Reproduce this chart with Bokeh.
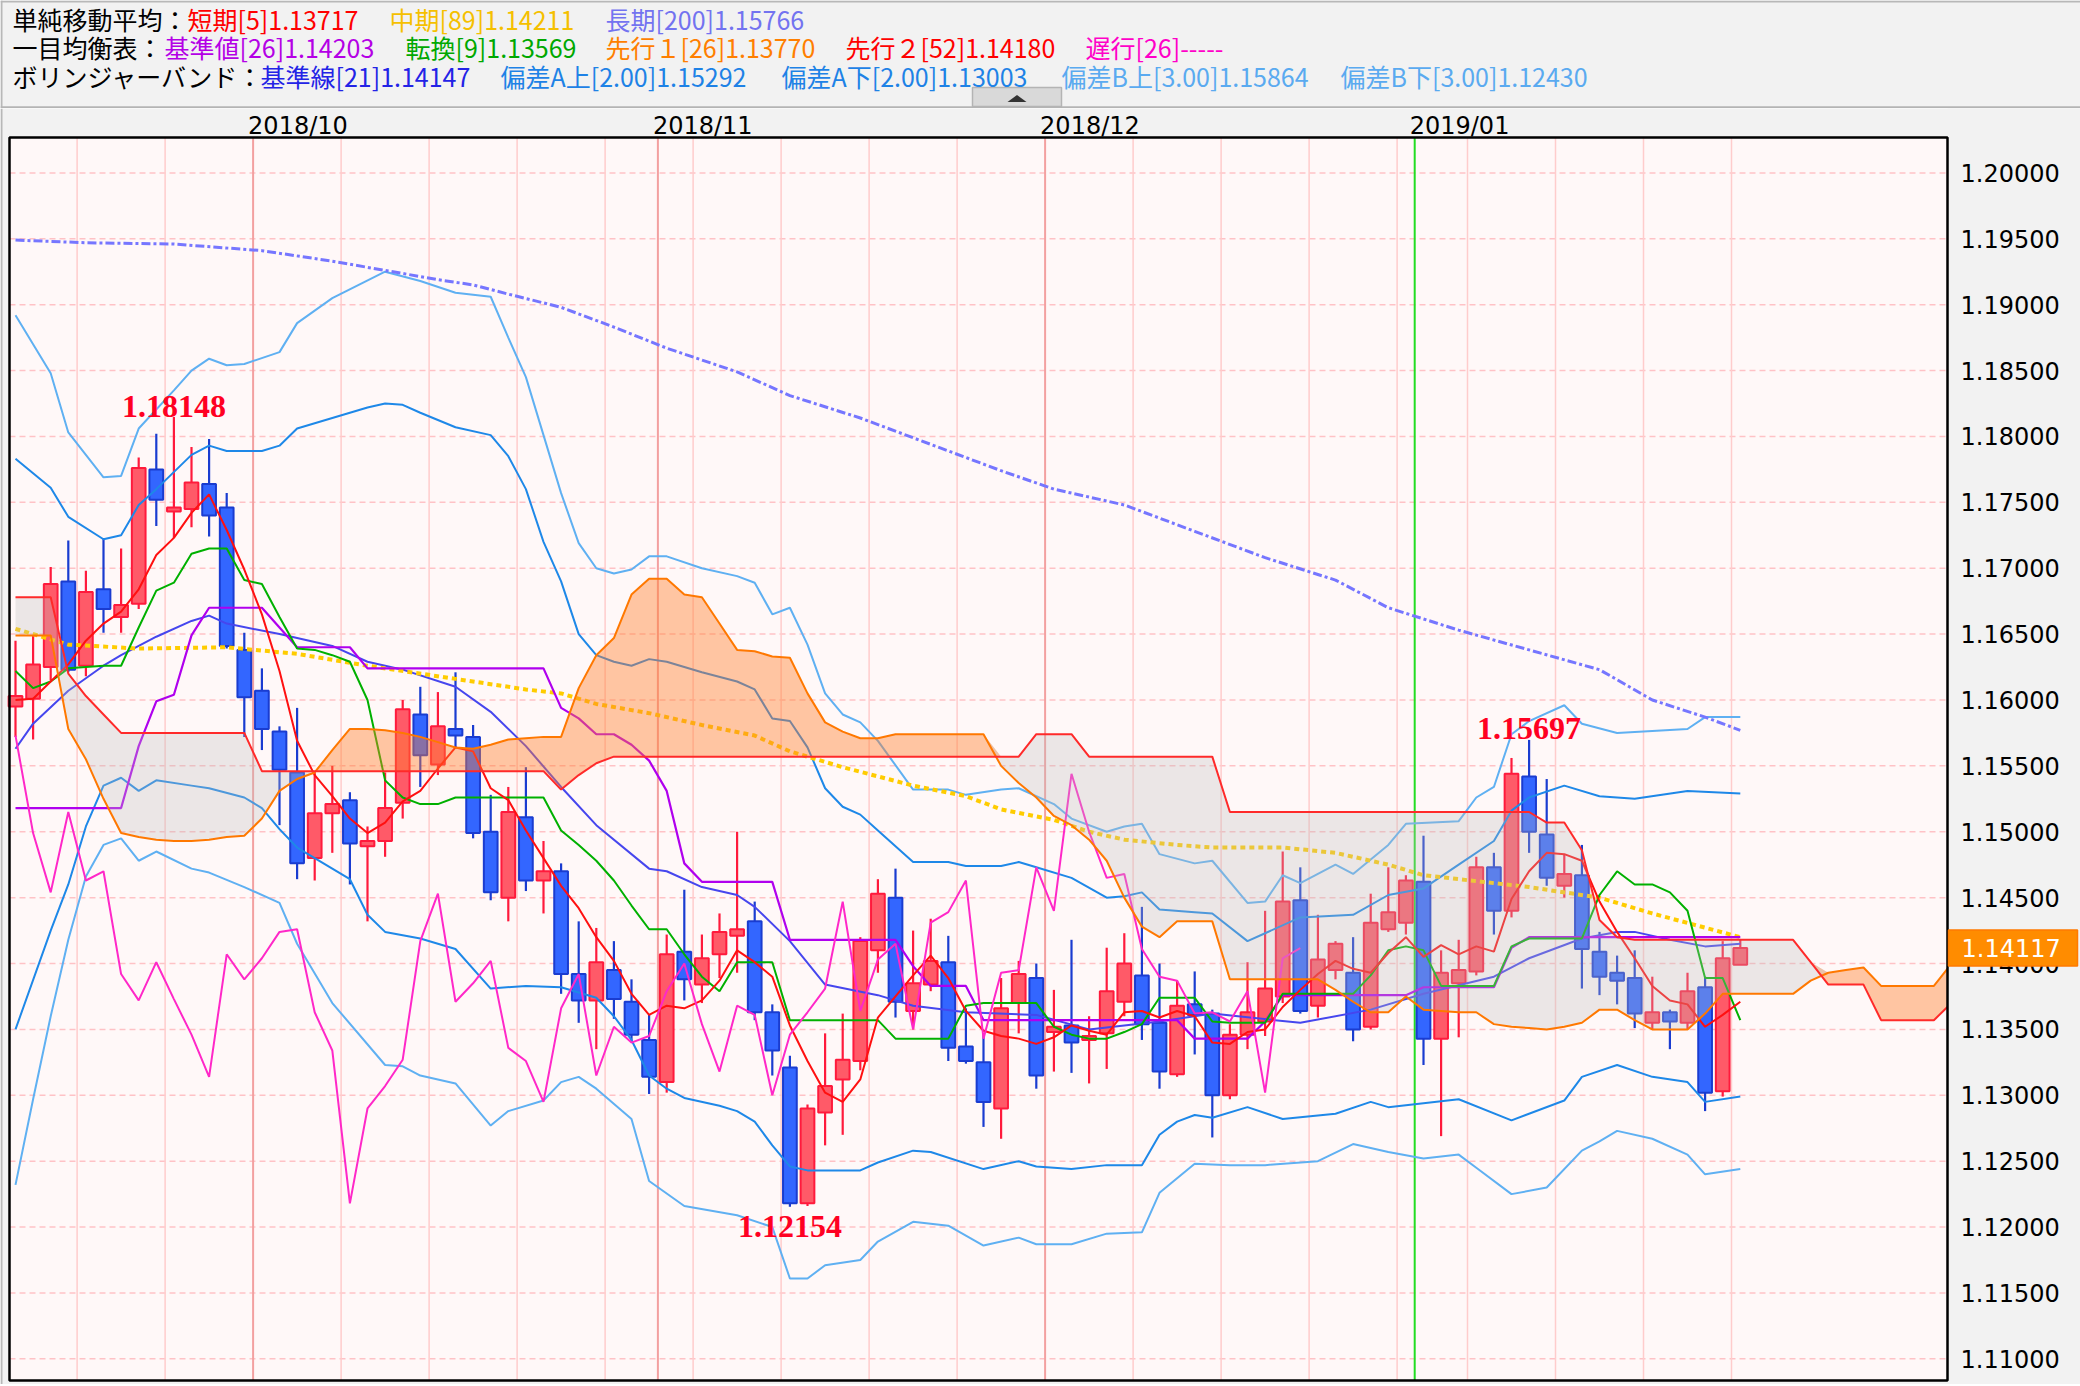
import numpy as np
from bokeh.plotting import figure
from bokeh.layouts import column
from bokeh.models import Range1d, Grid, ColumnDataSource
from bokeh.core.properties import value
from bokeh.embed import file_html
from bokeh.resources import INLINE

# ======================= DATA =======================
# EUR/USD daily candles, 2018-09-11 .. 2019-01-28 (index 0..98)
opens = [1.1595, 1.1601, 1.1625, 1.1690, 1.1626, 1.1684, 1.1663, 1.1673, 1.1775, 1.1743,
         1.1745, 1.1764, 1.1746, 1.1638, 1.1607, 1.1576, 1.1545, 1.1480, 1.1514, 1.1524,
         1.1489, 1.1493, 1.1522, 1.1589, 1.1551, 1.1578, 1.1572, 1.1500, 1.1450, 1.1511,
         1.1463, 1.1470, 1.1392, 1.1372, 1.1395, 1.1371, 1.1342, 1.1310, 1.1409, 1.1384,
         1.1407, 1.1421, 1.1432, 1.1363, 1.1321, 1.1218, 1.1287, 1.1312, 1.1326, 1.1410,
         1.1450, 1.1364, 1.1384, 1.1401, 1.1337, 1.1325, 1.1290, 1.1370, 1.1389, 1.1348,
         1.1353, 1.1342, 1.1347, 1.1371, 1.1391, 1.1355, 1.1316, 1.1369, 1.1362, 1.1300,
         1.1346, 1.1356, 1.1375, 1.1448, 1.1368, 1.1395, 1.1393, 1.1352, 1.1426, 1.1431,
         1.1462, 1.1343, 1.1385, 1.1394, 1.1473, 1.1440, 1.1542, 1.1498, 1.1459, 1.1467,
         1.1409, 1.1393, 1.1389, 1.1355, 1.1363, 1.1355, 1.1382, 1.1303, 1.1399]
highs = [1.1645, 1.1649, 1.1701, 1.1721, 1.1698, 1.1723, 1.1715, 1.1784, 1.1802, 1.18148,
         1.1792, 1.1798, 1.1757, 1.1651, 1.1624, 1.1580, 1.1594, 1.1545, 1.1550, 1.1530,
         1.1504, 1.1545, 1.1600, 1.1610, 1.1606, 1.1621, 1.1581, 1.1528, 1.1534, 1.1549,
         1.1493, 1.1476, 1.1432, 1.1427, 1.1417, 1.1388, 1.1361, 1.1422, 1.1456, 1.1422,
         1.1438, 1.1500, 1.1447, 1.1369, 1.1330, 1.1293, 1.1347, 1.1362, 1.1420, 1.1464,
         1.1472, 1.1425, 1.1434, 1.1421, 1.1366, 1.1346, 1.1389, 1.1402, 1.1400, 1.1380,
         1.1418, 1.1360, 1.1412, 1.1423, 1.1443, 1.1400, 1.1387, 1.1394, 1.1365, 1.1354,
         1.1401, 1.1440, 1.1485, 1.1473, 1.1437, 1.1417, 1.1420, 1.1453, 1.1473, 1.1467,
         1.1497, 1.1410, 1.1418, 1.1481, 1.1484, 1.1556, 1.15697, 1.1540, 1.1483, 1.1490,
         1.1424, 1.1406, 1.1410, 1.1390, 1.1365, 1.1393, 1.1390, 1.1417, 1.1418]
lows = [1.1572, 1.1570, 1.1615, 1.1621, 1.1618, 1.1651, 1.1651, 1.1669, 1.1732, 1.1723,
        1.1731, 1.1724, 1.1639, 1.1572, 1.1562, 1.1505, 1.1464, 1.1463, 1.1484, 1.1460,
        1.1432, 1.1481, 1.1510, 1.1534, 1.1543, 1.1564, 1.1495, 1.1448, 1.1432, 1.1455,
        1.1438, 1.1377, 1.1355, 1.1335, 1.1358, 1.1341, 1.1301, 1.1302, 1.1372, 1.1370,
        1.1389, 1.1393, 1.1357, 1.1315, 1.12154, 1.1216, 1.1262, 1.1270, 1.1319, 1.1393,
        1.1359, 1.1350, 1.1379, 1.1326, 1.1324, 1.1276, 1.1267, 1.1347, 1.1305, 1.1318,
        1.1317, 1.1309, 1.1320, 1.1360, 1.1342, 1.1305, 1.1314, 1.1331, 1.1268, 1.1297,
        1.1335, 1.1345, 1.1370, 1.1362, 1.1359, 1.1388, 1.1341, 1.1350, 1.1424, 1.1422,
        1.1323, 1.1269, 1.1344, 1.1391, 1.1422, 1.1435, 1.1484, 1.1459, 1.1450, 1.1381,
        1.1376, 1.1369, 1.1351, 1.1350, 1.1335, 1.1350, 1.1288, 1.1299, 1.1399]
closes = [1.1603, 1.1627, 1.1688, 1.1623, 1.1682, 1.1669, 1.1672, 1.1776, 1.1752, 1.1746,
          1.1765, 1.1740, 1.1641, 1.1602, 1.1578, 1.1547, 1.1476, 1.1514, 1.1521, 1.1491,
          1.1493, 1.1518, 1.1593, 1.1558, 1.1580, 1.1573, 1.1499, 1.1454, 1.1515, 1.1463,
          1.1470, 1.1392, 1.1372, 1.1401, 1.1373, 1.1346, 1.1314, 1.1407, 1.1388, 1.1404,
          1.1424, 1.1426, 1.1363, 1.1334, 1.1218, 1.1290, 1.1307, 1.1327, 1.1417, 1.1453,
          1.1371, 1.1385, 1.1402, 1.1336, 1.1326, 1.1295, 1.1366, 1.1392, 1.1315, 1.1352,
          1.1340, 1.1345, 1.1379, 1.1400, 1.1354, 1.1318, 1.1368, 1.1361, 1.1300, 1.1346,
          1.1363, 1.1381, 1.1447, 1.1364, 1.1403, 1.1415, 1.1350, 1.1431, 1.1439, 1.1463,
          1.1343, 1.1393, 1.1395, 1.1473, 1.1440, 1.1544, 1.1500, 1.1465, 1.1468, 1.1411,
          1.1390, 1.1387, 1.1362, 1.1363, 1.1356, 1.1379, 1.1302, 1.1404, 1.14117]

# SMA 5 (per candle)
sma5 = [1.1600, 1.1601, 1.1614, 1.1627, 1.1645, 1.1658, 1.1667, 1.1684, 1.1710, 1.1723,
        1.1742, 1.1756, 1.1729, 1.1699, 1.1665, 1.1622, 1.1569, 1.1543, 1.1527, 1.1510,
        1.1499, 1.1507, 1.1523, 1.1531, 1.1548, 1.1564, 1.1561, 1.1533, 1.1524, 1.1501,
        1.1480, 1.1459, 1.1442, 1.1420, 1.1402, 1.1377, 1.1361, 1.1368, 1.1366, 1.1372,
        1.1387, 1.1410, 1.1401, 1.1390, 1.1353, 1.1326, 1.1302, 1.1295, 1.1312, 1.1359,
        1.1375, 1.1391, 1.1406, 1.1389, 1.1364, 1.1349, 1.1345, 1.1343, 1.1339, 1.1344,
        1.1353, 1.1349, 1.1346, 1.1363, 1.1364, 1.1359, 1.1364, 1.1360, 1.1340, 1.1339,
        1.1348, 1.1350, 1.1367, 1.1380, 1.1392, 1.1402, 1.1396, 1.1393, 1.1408, 1.1420,
        1.1405, 1.1414, 1.1407, 1.1413, 1.1409, 1.1449, 1.1470, 1.1484, 1.1483, 1.1478,
        1.1447, 1.1424, 1.1404, 1.1383, 1.1372, 1.1369, 1.1352, 1.1361, 1.1371]

# SMA 89 / SMA 200 (vertices: candle index, value)
sma89_idx = [0, 3, 7, 12, 16, 20, 25, 29, 31, 33, 36, 39, 42, 44, 47, 49, 51, 54, 56, 59,
             61, 63, 66, 68, 72, 75, 78, 80, 82, 86, 90, 93, 98]
sma89_val = [1.1654, 1.1642, 1.1639, 1.1640, 1.1635, 1.1626, 1.1616, 1.1608, 1.1605, 1.1597,
             1.1590, 1.1581, 1.1573, 1.1561, 1.1549, 1.1542, 1.1535, 1.1527, 1.1517, 1.1509,
             1.1500, 1.1494, 1.1490, 1.1488, 1.1488, 1.1484, 1.1475, 1.1467, 1.1464, 1.1458,
             1.1450, 1.1438, 1.1420]
sma200_idx = [0, 4, 9, 14, 18, 21, 24, 26, 28, 31, 34, 37, 41, 44, 48, 52, 56, 59, 63, 67,
              71, 75, 78, 82, 86, 90, 93, 96, 98]
sma200_val = [1.1949, 1.1947, 1.1946, 1.1941, 1.1933, 1.1926, 1.1919, 1.1915, 1.1908, 1.1898,
              1.1883, 1.1867, 1.1849, 1.1831, 1.1814, 1.1794, 1.1774, 1.1760, 1.1748, 1.1728,
              1.1708, 1.1691, 1.1670, 1.1653, 1.1638, 1.1623, 1.1600, 1.1587, 1.1577]

# Bollinger bands (21): middle, +/-2 sigma, +/-3 sigma (vertices)
bb_mid_idx = [0, 1, 3, 5, 6, 8, 10, 11, 12, 15, 18, 20, 22, 25, 27, 29, 31, 33, 36, 37,
              39, 41, 42, 44, 46, 49, 51, 54, 58, 61, 65, 68, 73, 77, 80, 84, 86, 89, 91, 92,
              94, 96, 98]
bb_mid_val = [1.1563, 1.1582, 1.1607, 1.1626, 1.1634, 1.1648, 1.1660, 1.1664, 1.1658, 1.1650,
              1.1641, 1.1629, 1.1623, 1.1610, 1.1591, 1.1565, 1.1534, 1.1505, 1.1472, 1.1470,
              1.1458, 1.1452, 1.1443, 1.1417, 1.1384, 1.1376, 1.1368, 1.1363, 1.1361, 1.1350,
              1.1356, 1.1362, 1.1355, 1.1365, 1.1377, 1.1390, 1.1404, 1.1419, 1.1424, 1.1424,
              1.1418, 1.1413, 1.1415]
bb_up2_idx = [0, 2, 3, 5, 6, 7, 8, 10, 11, 12, 14, 15, 16, 18, 20, 21, 22, 23, 25, 27,
              28, 29, 30, 31, 32, 33, 34, 35, 36, 37, 39, 41, 42, 43, 44, 45, 46, 47, 48, 49,
              51, 53, 54, 56, 57, 58, 60, 62, 63, 64, 65, 67, 68, 70, 71, 73, 76, 78, 80, 82,
              84, 85, 86, 88, 90, 92, 95, 98]
bb_up2_val = [1.1783, 1.1761, 1.1739, 1.1722, 1.1725, 1.1748, 1.1760, 1.1786, 1.1793, 1.1789,
              1.1789, 1.1793, 1.1806, 1.1814, 1.1822, 1.1825, 1.1824, 1.1818, 1.1807, 1.1801,
              1.1785, 1.1760, 1.1720, 1.1690, 1.1650, 1.1634, 1.1629, 1.1626, 1.1631, 1.1629,
              1.1621, 1.1614, 1.1608, 1.1586, 1.1584, 1.1564, 1.1533, 1.1519, 1.1513, 1.1501,
              1.1477, 1.1477, 1.1474, 1.1474, 1.1477, 1.1473, 1.1465, 1.1450, 1.1451, 1.1454,
              1.1441, 1.1439, 1.1438, 1.1417, 1.1423, 1.1435, 1.1437, 1.1452, 1.1457, 1.1475,
              1.1493, 1.1516, 1.1526, 1.1535, 1.1527, 1.1525, 1.1531, 1.1529]
bb_lo2_idx = [0, 2, 3, 4, 5, 6, 7, 8, 10, 11, 13, 14, 15, 16, 17, 19, 20, 21, 23, 25,
              27, 29, 31, 33, 34, 35, 36, 37, 38, 40, 41, 42, 43, 44, 45, 48, 49, 51, 52, 55,
              57, 58, 60, 62, 64, 65, 66, 67, 68, 70, 72, 75, 77, 78, 82, 85, 88, 89, 91, 93,
              95, 96, 98]
bb_lo2_val = [1.1350, 1.1425, 1.1460, 1.1504, 1.1535, 1.1541, 1.1531, 1.1539, 1.1535, 1.1533,
              1.1526, 1.1518, 1.1502, 1.1488, 1.1480, 1.1464, 1.1437, 1.1424, 1.1419, 1.1411,
              1.1381, 1.1383, 1.1382, 1.1374, 1.1360, 1.1342, 1.1315, 1.1305, 1.1298, 1.1292,
              1.1288, 1.1280, 1.1262, 1.1246, 1.1243, 1.1243, 1.1249, 1.1258, 1.1257, 1.1244,
              1.1250, 1.1246, 1.1244, 1.1247, 1.1247, 1.1270, 1.1280, 1.1285, 1.1283, 1.1291,
              1.1282, 1.1286, 1.1295, 1.1291, 1.1297, 1.1281, 1.1296, 1.1314, 1.1323, 1.1314,
              1.1310, 1.1295, 1.1299]
bb_up3_idx = [0, 2, 3, 5, 6, 7, 9, 10, 11, 12, 13, 15, 16, 18, 21, 23, 25, 27, 28, 29,
              30, 31, 32, 33, 34, 35, 36, 37, 39, 41, 42, 43, 44, 45, 46, 47, 48, 49, 51, 53,
              54, 56, 57, 59, 60, 62, 63, 64, 65, 67, 68, 70, 71, 72, 73, 75, 76, 78, 79, 82,
              83, 84, 85, 86, 88, 89, 91, 95, 96, 98]
bb_up3_val = [1.1892, 1.1848, 1.1803, 1.1769, 1.1770, 1.1806, 1.1835, 1.1850, 1.1859, 1.1854,
              1.1855, 1.1864, 1.1886, 1.1905, 1.1925, 1.1918, 1.1909, 1.1906, 1.1875, 1.1845,
              1.1801, 1.1757, 1.1719, 1.1700, 1.1696, 1.1699, 1.1709, 1.1709, 1.1700, 1.1694,
              1.1689, 1.1665, 1.1670, 1.1642, 1.1605, 1.1589, 1.1583, 1.1569, 1.1532, 1.1532,
              1.1528, 1.1532, 1.1533, 1.1521, 1.1510, 1.1500, 1.1504, 1.1506, 1.1483, 1.1476,
              1.1478, 1.1446, 1.1447, 1.1467, 1.1461, 1.1475, 1.1468, 1.1490, 1.1506, 1.1508,
              1.1526, 1.1534, 1.1574, 1.1584, 1.1596, 1.1582, 1.1575, 1.1578, 1.1587, 1.1587]
bb_lo3_idx = [0, 1, 2, 3, 4, 5, 6, 7, 8, 10, 11, 13, 15, 16, 18, 21, 22, 23, 25, 27,
              28, 30, 31, 32, 33, 35, 36, 38, 41, 43, 44, 45, 46, 48, 49, 51, 53, 55, 57, 58,
              60, 62, 64, 65, 67, 69, 71, 74, 76, 78, 80, 82, 83, 85, 87, 89, 90, 91, 93, 95,
              96, 98]
bb_lo3_val = [1.1232, 1.1297, 1.1360, 1.1418, 1.1466, 1.1490, 1.1495, 1.1478, 1.1485, 1.1472,
              1.1469, 1.1458, 1.1446, 1.1415, 1.1370, 1.1323, 1.1322, 1.1315, 1.1309, 1.1277,
              1.1288, 1.1296, 1.1310, 1.1314, 1.1305, 1.1282, 1.1235, 1.1216, 1.1209, 1.1200,
              1.1161, 1.1161, 1.1171, 1.1175, 1.1189, 1.1204, 1.1201, 1.1186, 1.1192, 1.1187,
              1.1187, 1.1195, 1.1196, 1.1226, 1.1248, 1.1247, 1.1247, 1.1250, 1.1263, 1.1257,
              1.1252, 1.1255, 1.1245, 1.1225, 1.1230, 1.1258, 1.1265, 1.1273, 1.1267, 1.1255,
              1.1240, 1.1244]

# Ichimoku: tenkan (9), kijun (26) per candle
tenkan = [1.1622, 1.1609, 1.1614, 1.1624, 1.1625, 1.1626, 1.1626, 1.1655, 1.1683, 1.1689,
          1.1711, 1.1715, 1.1715, 1.1691, 1.1688, 1.1663, 1.1639, 1.1638, 1.1634, 1.1629,
          1.1600, 1.1539, 1.1526, 1.1521, 1.1521, 1.1526, 1.1526, 1.1526, 1.1526, 1.1526,
          1.1526, 1.1501, 1.1490, 1.1478, 1.1463, 1.1444, 1.1426, 1.1426, 1.1407, 1.1390,
          1.1379, 1.1401, 1.1401, 1.1401, 1.1357, 1.1357, 1.1357, 1.1357, 1.1357, 1.1357,
          1.1343, 1.1343, 1.1343, 1.1343, 1.1368, 1.1370, 1.1370, 1.1370, 1.1370, 1.1352,
          1.1346, 1.1343, 1.1343, 1.1348, 1.1354, 1.1374, 1.1374, 1.1374, 1.1356, 1.1355,
          1.1355, 1.1355, 1.1377, 1.1377, 1.1377, 1.1377, 1.1377, 1.1391, 1.1410, 1.1413,
          1.1410, 1.1383, 1.1383, 1.1383, 1.1383, 1.1413, 1.1419, 1.1419, 1.1419, 1.1419,
          1.1452, 1.1470, 1.1460, 1.1460, 1.1454, 1.1440, 1.1389, 1.1389, 1.1357]
kijun = [1.1518, 1.1518, 1.1518, 1.1518, 1.1518, 1.1518, 1.1518, 1.1565, 1.1599, 1.1604,
         1.1649, 1.1670, 1.1670, 1.1670, 1.1670, 1.1655, 1.1640, 1.1640, 1.1640, 1.1640,
         1.1624, 1.1624, 1.1624, 1.1624, 1.1624, 1.1624, 1.1624, 1.1624, 1.1624, 1.1624,
         1.1624, 1.1594, 1.1586, 1.1574, 1.1574, 1.1566, 1.1554, 1.1531, 1.1476, 1.1462,
         1.1462, 1.1462, 1.1462, 1.1462, 1.1418, 1.1418, 1.1418, 1.1418, 1.1418, 1.1418,
         1.1418, 1.1398, 1.1383, 1.1383, 1.1383, 1.1357, 1.1357, 1.1357, 1.1357, 1.1357,
         1.1357, 1.1357, 1.1357, 1.1357, 1.1357, 1.1357, 1.1357, 1.1343, 1.1343, 1.1343,
         1.1343, 1.1356, 1.1376, 1.1376, 1.1376, 1.1376, 1.1376, 1.1376, 1.1376, 1.1376,
         1.1382, 1.1382, 1.1382, 1.1382, 1.1382, 1.1412, 1.1420, 1.1420, 1.1420, 1.1420,
         1.1420, 1.1420, 1.1420, 1.1420, 1.1420, 1.1420, 1.1420, 1.1420, 1.1420]
# Senkou spans (plotted 26 ahead; index 0..110)
senkou_a = [1.1649, 1.1649, 1.1649, 1.1578, 1.1555, 1.1525, 1.1499, 1.1496, 1.1494, 1.1493,
            1.1493, 1.1494, 1.1496, 1.1497, 1.1510, 1.1531, 1.1540, 1.1545, 1.1562, 1.1578,
            1.1578, 1.1577, 1.1575, 1.1572, 1.1568, 1.1564, 1.1563, 1.1566, 1.1570, 1.1571,
            1.1572, 1.1572, 1.1609, 1.1634, 1.1647, 1.1680, 1.1692, 1.1692, 1.1680, 1.1678,
            1.1658, 1.1638, 1.1637, 1.1633, 1.1632, 1.1605, 1.1583, 1.1576, 1.1571, 1.1571,
            1.1574, 1.1574, 1.1574, 1.1574, 1.1574, 1.1574, 1.1550, 1.1537, 1.1526, 1.1512,
            1.1505, 1.1494, 1.1478, 1.1450, 1.1428, 1.1420, 1.1432, 1.1432, 1.1432, 1.1388,
            1.1388, 1.1388, 1.1388, 1.1388, 1.1388, 1.1380, 1.1371, 1.1363, 1.1363, 1.1375,
            1.1365, 1.1364, 1.1363, 1.1363, 1.1354, 1.1352, 1.1351, 1.1350, 1.1352, 1.1355,
            1.1365, 1.1365, 1.1357, 1.1350, 1.1350, 1.1350, 1.1362, 1.1377, 1.1377, 1.1377,
            1.1377, 1.1377, 1.1387, 1.1393, 1.1395, 1.1397, 1.1383, 1.1383, 1.1383, 1.1383,
            1.1400]
senkou_b = [1.1678, 1.1678, 1.1678, 1.1620, 1.1603, 1.1589, 1.1575, 1.1575, 1.1575, 1.1575,
            1.1575, 1.1575, 1.1575, 1.1575, 1.1546, 1.1546, 1.1546, 1.1546, 1.1546, 1.1546,
            1.1546, 1.1546, 1.1546, 1.1546, 1.1546, 1.1546, 1.1546, 1.1546, 1.1546, 1.1546,
            1.1546, 1.1532, 1.1543, 1.1552, 1.1557, 1.1557, 1.1557, 1.1557, 1.1557, 1.1557,
            1.1557, 1.1557, 1.1557, 1.1557, 1.1557, 1.1557, 1.1557, 1.1557, 1.1557, 1.1557,
            1.1557, 1.1557, 1.1557, 1.1557, 1.1557, 1.1557, 1.1557, 1.1557, 1.1574, 1.1574,
            1.1574, 1.1557, 1.1557, 1.1557, 1.1557, 1.1557, 1.1557, 1.1557, 1.1557, 1.1515,
            1.1515, 1.1515, 1.1515, 1.1515, 1.1515, 1.1515, 1.1515, 1.1515, 1.1515, 1.1515,
            1.1515, 1.1515, 1.1515, 1.1515, 1.1515, 1.1515, 1.1515, 1.1507, 1.1507, 1.1486,
            1.1433, 1.1420, 1.1418, 1.1418, 1.1418, 1.1418, 1.1418, 1.1418, 1.1418, 1.1418,
            1.1418, 1.1418, 1.1401, 1.1384, 1.1384, 1.1384, 1.1357, 1.1357, 1.1357, 1.1357,
            1.1370]
chikou_shift = 25

# labels / ticks
price_ticks = [1.110, 1.115, 1.120, 1.125, 1.130, 1.135, 1.140, 1.145, 1.150, 1.155,
               1.160, 1.165, 1.170, 1.175, 1.180, 1.185, 1.190, 1.195, 1.200]
month_labels = ["2018/10", "2018/11", "2018/12", "2019/01"]
month_pos = [13.5, 36.5, 58.5, 79.5]
week_pos = [3.5, 8.5, 18.5, 23.5, 28.5, 33.5, 38.5, 43.5, 48.5, 53.5,
            63.5, 68.5, 73.5, 78.5, 82.5, 87.5, 92.5, 97.5]
peak_idx = [9, 44, 86]
peak_val = [1.18148, 1.12154, 1.15697]
last_price = 1.14117

head_text = ["単純移動平均：", "短期[5]1.13717", "中期[89]1.14211", "長期[200]1.15766",
             "一目均衡表：", "基準値[26]1.14203", "転換[9]1.13569", "先行１[26]1.13770",
             "先行２[52]1.14180", "遅行[26]-----",
             "ボリンジャーバンド：", "基準線[21]1.14147", "偏差A上[2.00]1.15292",
             "偏差A下[2.00]1.13003", "偏差B上[3.00]1.15864", "偏差B下[3.00]1.12430"]

# ======================= LAYOUT / STYLE =======================
head_x_ref = [12, 187, 389, 605, 12, 164, 405, 605, 845, 1085, 12, 260, 500, 781, 1061, 1340]
head_y_ref = [18, 18, 18, 18, 46.5, 46.5, 46.5, 46.5, 46.5, 46.5, 75, 75, 75, 75, 75, 75]
head_color = ["#000000", "#ff0000", "#f5c000", "#7373f0",
              "#000000", "#b400e6", "#00a800", "#ff7f00", "#ff0000", "#ff00c8",
              "#000000", "#2323e6", "#1e82e6", "#1e82e6", "#5aaaf0", "#5aaaf0"]
peak_dy = [-10, 20, -11]
month_line_color = ["#f3a0a0", "#f3a0a0", "#f3a0a0", "#22dd22"]

W = 2080
HEAD_H = 108
MAIN_H = 1276
CANDLE0_REF = 15.0     # reference x pixel of candle 0
STEP_REF = 17.6        # px per candle
Y_REF_120 = 172.4      # reference y pixel of 1.20000
PX_PER_UNIT = 13177.0  # px per 1.0 of price
GREY = "#f2f2f2"


def ix(ref_x):
    return (ref_x - CANDLE0_REF) / STEP_REF


def py(ref_y):
    return 1.2 - (ref_y - Y_REF_120) / PX_PER_UNIT


PL, PR, PT, PB = ix(9), ix(1947), py(137), py(1380)   # plot area

# ---------------- header ----------------
h = figure(width=W, height=HEAD_H, x_range=Range1d(0, W), y_range=Range1d(HEAD_H, 0),
           toolbar_location=None, output_backend="svg", x_axis_location=None,
           y_axis_location=None, min_border=0, background_fill_color=GREY,
           border_fill_color=GREY, outline_line_color=None, title=None)
h.center = [r for r in h.center if not isinstance(r, Grid)]
h.segment(x0=[0, 1], y0=[1, 0], x1=[W, 1], y1=[1, HEAD_H], line_color="#b8b8b8", line_width=2)
h.segment(x0=[0], y0=[107], x1=[W], y1=[107], line_color="#b4b4b4", line_width=2.5)
h.quad(left=[972], right=[1061], top=[87], bottom=[106], fill_color="#d9d9d9",
       line_color="#b4b4b4", line_width=1.5)
h.patch(x=[1007, 1026, 1016.5], y=[101.5, 101.5, 94.5], fill_color="#333333", line_color=None)
hsrc = ColumnDataSource(dict(x=head_x_ref, y=head_y_ref, text=head_text, color=head_color))
h.text(x="x", y="y", text="text", text_color="color", source=hsrc,
       text_font=value("Noto Sans CJK JP"), text_font_size="25px",
       text_baseline="middle", text_align="left")

# ---------------- main chart ----------------
p = figure(width=W, height=MAIN_H, x_range=Range1d(ix(0), ix(W)),
           y_range=Range1d(py(HEAD_H + MAIN_H), py(HEAD_H)), toolbar_location=None,
           output_backend="svg", x_axis_location=None, y_axis_location=None, title=None,
           min_border=0, background_fill_color=GREY, border_fill_color=GREY,
           outline_line_color=None)
p.center = [r for r in p.center if not isinstance(r, Grid)]

# plot area background and grid
p.quad(left=[PL], right=[PR], top=[PT], bottom=[PB], fill_color="#fff8f8", line_color=None)
p.segment(x0=[PL] * len(price_ticks), y0=price_ticks, x1=[PR] * len(price_ticks),
          y1=price_ticks, line_color="#ffc2c6", line_width=1.5, line_dash="6 4")
p.segment(x0=week_pos, y0=[PB] * len(week_pos), x1=week_pos, y1=[PT] * len(week_pos),
          line_color="#ffcccc", line_width=1.5)
p.segment(x0=month_pos, y0=[PB] * len(month_pos), x1=month_pos, y1=[PT] * len(month_pos),
          line_color=month_line_color, line_width=2)

# candles
o = np.array(opens); c = np.array(closes)
up = c >= o
idx = np.arange(len(closes))
csrc = ColumnDataSource(dict(
    x=idx, top=np.maximum(o, c), bottom=np.minimum(o, c), high=highs, low=lows,
    fill=np.where(up, "#ff5a68", "#3366ff"), line=np.where(up, "#ff1a3c", "#1a3cd0")))
p.segment(x0="x", y0="low", x1="x", y1="high", line_color="line", line_width=2.2, source=csrc)
p.vbar(x="x", width=0.78, top="top", bottom="bottom", fill_color="fill",
       line_color="line", line_width=2, source=csrc)

# indicator lines
p.line(bb_up3_idx, bb_up3_val, line_color="#5fb0f2", line_width=2)
p.line(bb_lo3_idx, bb_lo3_val, line_color="#5fb0f2", line_width=2)
p.line(bb_up2_idx, bb_up2_val, line_color="#1e88e8", line_width=2)
p.line(bb_lo2_idx, bb_lo2_val, line_color="#1e88e8", line_width=2)
p.line(bb_mid_idx, bb_mid_val, line_color="#4646ee", line_width=2)
p.line(sma200_idx, sma200_val, line_color="#7676ff", line_width=3, line_dash="9 3 3 3")
p.line(sma89_idx, sma89_val, line_color="#ffcc00", line_width=4, line_dash="5 4")
p.line(idx, kijun, line_color="#b000ee", line_width=2.2)
p.line(idx, tenkan, line_color="#00b000", line_width=2)
p.line(idx, sma5, line_color="#ff1010", line_width=2)
p.line(idx[chikou_shift:] - chikou_shift, closes[chikou_shift:], line_color="#ff28c8",
       line_width=2)

# cloud
sa = np.array(senkou_a); sb = np.array(senkou_b)
cx = np.arange(len(sa))
top_ab = np.maximum(sa, sb)
p.varea(x=cx, y1=sb, y2=top_ab, fill_color="#ff7f2a", fill_alpha=0.42)
p.varea(x=cx, y1=sa, y2=top_ab, fill_color="#bdbdbd", fill_alpha=0.3)
p.line(cx, sa, line_color="#ff7800", line_width=2)
p.line(cx, sb, line_color="#ff2a2a", line_width=2)

# high / low labels
psrc = ColumnDataSource(dict(x=peak_idx, y=peak_val, dy=peak_dy,
                             t=["%.5f" % v for v in peak_val]))
p.text(x="x", y="y", text="t", y_offset="dy", source=psrc, text_align="center",
       text_baseline="middle", text_font=value("Liberation Serif"), text_font_style="bold",
       text_font_size="32px", text_color="#ff0022")

# mask outside the plot area on the right, then the frame
p.quad(left=[PR], right=[ix(W) + 1], top=[py(HEAD_H) + 0.01], bottom=[py(HEAD_H + MAIN_H) - 0.01],
       fill_color=GREY, line_color=None)
p.quad(left=[PL], right=[PR], top=[PT], bottom=[PB], fill_alpha=0, line_color="#000000",
       line_width=2.5)
p.segment(x0=[ix(1)], y0=[py(HEAD_H)], x1=[ix(1)], y1=[py(HEAD_H + MAIN_H)],
          line_color="#b8b8b8", line_width=2)

# price axis labels (right)
p.text(x=[ix(1960)] * len(price_ticks), y=price_ticks,
       text=["%.5f" % v for v in price_ticks], text_font=value("DejaVu Sans"),
       text_font_size="24px", text_baseline="middle", text_align="left", text_color="#000000")

# current price tag
tag_half = 18 / PX_PER_UNIT
p.quad(left=[ix(1948)], right=[ix(2077)], top=[last_price + tag_half],
       bottom=[last_price - tag_half], fill_color="#ff8c00", line_color="#ff7a00", line_width=1.5)
p.text(x=[ix(1961)], y=[last_price], text=["%.5f" % last_price], text_font=value("DejaVu Sans"),
       text_font_size="24px", text_baseline="middle", text_align="left", text_color="#ffffff")

# month labels above the plot
p.text(x=month_pos, y=[py(125)] * len(month_pos), text=month_labels, x_offset=-5,
       text_font=value("DejaVu Sans"), text_font_size="24px", text_baseline="middle",
       text_align="left", text_color="#000000")

layout = column(h, p)
open("out.html", "w").write(file_html(layout, INLINE))
